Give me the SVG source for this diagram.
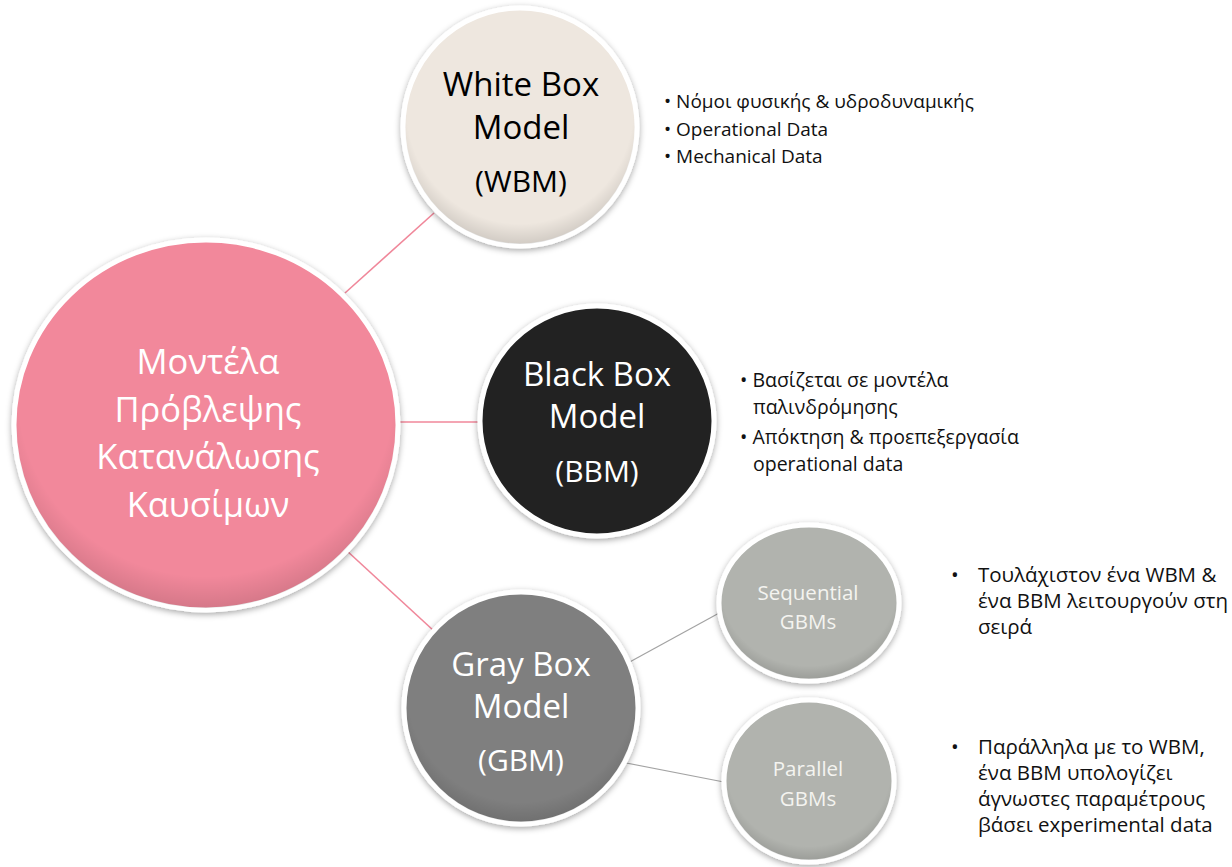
<svg xmlns="http://www.w3.org/2000/svg" width="1232" height="867" viewBox="0 0 1232 867">
  <defs>
    <filter id="shadow" x="-20%" y="-20%" width="140%" height="140%">
      <feDropShadow dx="0" dy="2" stdDeviation="3" flood-color="#000" flood-opacity="0.35"/>
    </filter>
    <radialGradient id="bevel" cx="50%" cy="42%" r="58%">
      <stop offset="0.85" stop-color="#000" stop-opacity="0"/>
      <stop offset="1" stop-color="#000" stop-opacity="0.12"/>
    </radialGradient>
  </defs>
  <style>
    .node { stroke: #ffffff; stroke-width: 5; filter: url(#shadow); }
    .shade { fill: url(#bevel); stroke: none; }
    .lbl { font-family: "Open Sans", "Noto Sans", "DejaVu Sans", sans-serif; text-anchor: middle; }
    .big { font-size: 33px; }
    .abbr { font-size: 30px; }
    .main { font-size: 34.5px; fill: #ffffff; }
    .small { font-size: 20.5px; fill: #f4f4f0; }
    .note { font-family: "Open Sans", "Noto Sans", "DejaVu Sans", sans-serif; fill: #111111; }
    .pink { stroke: #f0879a; stroke-width: 1.6; fill: none; }
    .grey { stroke: #a3a3a3; stroke-width: 1.2; fill: none; }
  </style>
  <rect width="1232" height="867" fill="#ffffff"/>

  <!-- connectors -->
  <g id="connectors">
    <line class="pink" x1="345" y1="293" x2="434" y2="213"/>
    <line class="pink" x1="398" y1="422" x2="480" y2="422"/>
    <line class="pink" x1="346" y1="550" x2="434" y2="631"/>
    <line class="grey" x1="626" y1="664" x2="721" y2="612"/>
    <line class="grey" x1="621" y1="762" x2="729" y2="783"/>
  </g>

  <!-- central topic -->
  <g id="node-main">
    <ellipse class="node" cx="206" cy="425" rx="192" ry="185" fill="#f2889b"/>
    <ellipse class="shade" cx="206" cy="425" rx="190" ry="183"/>
    <text class="lbl main" x="208" y="374">Μοντέλα</text>
    <text class="lbl main" x="208" y="422">Πρόβλεψης</text>
    <text class="lbl main" x="208" y="469">Κατανάλωσης</text>
    <text class="lbl main" x="208" y="517">Καυσίμων</text>
  </g>

  <!-- white box model -->
  <g id="node-wbm">
    <ellipse class="node" cx="520" cy="127" rx="117" ry="119" fill="#eee7df"/>
    <ellipse class="shade" cx="520" cy="127" rx="115" ry="117"/>
    <text class="lbl big" x="521" y="96" fill="#000">White Box</text>
    <text class="lbl big" x="521" y="139" fill="#000">Model</text>
    <text class="lbl abbr" x="521" y="192" fill="#000">(WBM)</text>
  </g>

  <!-- black box model -->
  <g id="node-bbm">
    <ellipse class="node" cx="597" cy="421" rx="117" ry="115" fill="#222222"/>
    <text class="lbl big" x="597" y="386" fill="#fff">Black Box</text>
    <text class="lbl big" x="597" y="428" fill="#fff">Model</text>
    <text class="lbl abbr" x="597" y="482" fill="#fff">(BBM)</text>
  </g>

  <!-- gray box model -->
  <g id="node-gbm">
    <ellipse class="node" cx="521" cy="708" rx="117" ry="116" fill="#7f7f7f"/>
    <ellipse class="shade" cx="521" cy="708" rx="115" ry="114"/>
    <text class="lbl big" x="521" y="676" fill="#fff">Gray Box</text>
    <text class="lbl big" x="521" y="718" fill="#fff">Model</text>
    <text class="lbl abbr" x="521" y="771" fill="#fff">(GBM)</text>
  </g>

  <!-- sequential GBMs -->
  <g id="node-seq">
    <ellipse class="node" cx="809" cy="603" rx="90" ry="78" fill="#b1b3ae"/>
    <ellipse class="shade" cx="809" cy="603" rx="88" ry="76"/>
    <text class="lbl small" x="808" y="600">Sequential</text>
    <text class="lbl small" x="808" y="629">GBMs</text>
  </g>

  <!-- parallel GBMs -->
  <g id="node-par">
    <ellipse class="node" cx="809" cy="781" rx="85" ry="81" fill="#b1b3ae"/>
    <ellipse class="shade" cx="809" cy="781" rx="83" ry="79"/>
    <text class="lbl small" x="808" y="776">Parallel</text>
    <text class="lbl small" x="808" y="806">GBMs</text>
  </g>

  <!-- notes -->
  <g id="notes-wbm" class="note" font-size="19">
    <text x="664" y="108">• Νόμοι φυσικής &amp; υδροδυναμικής</text>
    <text x="664" y="136">• Operational Data</text>
    <text x="664" y="163">• Mechanical Data</text>
  </g>
  <g id="notes-bbm" class="note" font-size="19.5">
    <text x="740" y="387">• Βασίζεται σε μοντέλα</text>
    <text x="753" y="414">παλινδρόμησης</text>
    <text x="740" y="444">• Απόκτηση &amp; προεπεξεργασία</text>
    <text x="753" y="471">operational data</text>
  </g>
  <g id="notes-seq" class="note" font-size="20.5">
    <text x="951" y="582">•</text>
    <text x="978" y="582">Τουλάχιστον  ένα WBM &amp;</text>
    <text x="978" y="608">ένα BBM λειτουργούν στη</text>
    <text x="978" y="634">σειρά</text>
  </g>
  <g id="notes-par" class="note" font-size="20.5">
    <text x="951" y="754">•</text>
    <text x="978" y="754">Παράλληλα  με το WBM,</text>
    <text x="978" y="780">ένα BBM υπολογίζει</text>
    <text x="978" y="806">άγνωστες παραμέτρους</text>
    <text x="978" y="832">βάσει experimental data</text>
  </g>
</svg>
